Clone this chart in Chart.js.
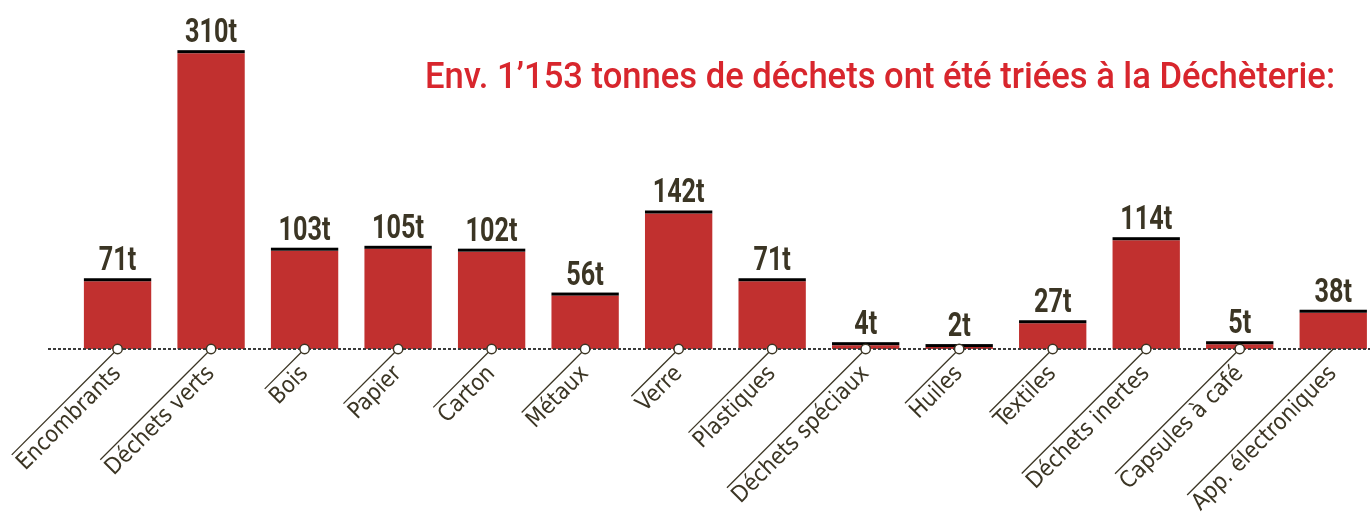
<!DOCTYPE html>
<html>
<head>
<meta charset="utf-8">
<script src="https://cdn.jsdelivr.net/npm/chart.js@4"></script>
<style>
html,body{margin:0;padding:0;background:#fff;overflow:hidden;width:1370px;height:513px;}
#wrap{position:absolute;left:0;top:0;width:1380px;height:513px;}
</style>
</head>
<body>
<div id="wrap"><canvas id="c" width="1380" height="513"></canvas></div>
<script>
const categories = ['Encombrants','Déchets verts','Bois','Papier','Carton','Métaux','Verre','Plastiques','Déchets spéciaux','Huiles','Textiles','Déchets inertes','Capsules à café','App. électroniques'];
const tonnes = [71,310,103,105,102,56,142,71,4,2,27,114,5,38];
const valueLabels = tonnes.map(v => v + 't');
const titleText = 'Env. 1’153 tonnes de déchets ont été triées à la Déchèterie:';

const RED = '#c1302f';
const TITLE_RED = '#d8262d';
const INK = '#3b3524';

const decor = {
  id: 'decor',
  afterDatasetsDraw(chart) {
    const ctx = chart.ctx;
    const meta = chart.getDatasetMeta(0);
    const base = chart.scales.y.getPixelForValue(0);
    ctx.save();
    // black top caps
    ctx.fillStyle = '#000';
    meta.data.forEach(el => {
      ctx.fillRect(el.x - el.width / 2, el.y - 3, el.width, 3);
    });
    // value labels (condensed look)
    ctx.fillStyle = INK;
    ctx.font = 'bold 33px Roboto, "DejaVu Sans Condensed", sans-serif';
    ctx.textAlign = 'center';
    ctx.textBaseline = 'alphabetic';
    const vs = 52 / ctx.measureText('310t').width;
    meta.data.forEach((el, i) => {
      ctx.save();
      ctx.translate(el.x, el.y - 11);
      ctx.scale(vs, 1);
      ctx.fillText(valueLabels[i], 0, 0);
      ctx.restore();
    });
    // dotted baseline
    ctx.strokeStyle = '#3a3a3a';
    ctx.lineWidth = 2;
    ctx.setLineDash([3, 2]);
    ctx.beginPath();
    ctx.moveTo(48, base);
    ctx.lineTo(1380, base);
    ctx.stroke();
    ctx.setLineDash([]);
    // category labels with leader lines
    ctx.font = '23px "DejaVu Sans Condensed", "DejaVu Sans", sans-serif';
    meta.data.forEach((el, i) => {
      const w = ctx.measureText(categories[i]).width;
      ctx.save();
      ctx.translate(el.x, base);
      ctx.rotate(-Math.PI / 4);
      ctx.strokeStyle = INK;
      ctx.lineWidth = 1.3;
      ctx.beginPath();
      ctx.moveTo(0, 0);
      ctx.lineTo(-(w + 13), 0);
      ctx.stroke();
      ctx.fillStyle = INK;
      ctx.textAlign = 'right';
      ctx.textBaseline = 'alphabetic';
      ctx.fillText(categories[i], -15, 21);
      ctx.restore();
      if (i < meta.data.length - 1) {
        ctx.beginPath();
        ctx.arc(el.x, base, 4.7, 0, Math.PI * 2);
        ctx.fillStyle = '#fff';
        ctx.fill();
        ctx.strokeStyle = INK;
        ctx.lineWidth = 1.5;
        ctx.stroke();
      }
    });
    // title
    ctx.font = '500 36px Roboto, "DejaVu Sans Condensed", sans-serif';
    ctx.fillStyle = TITLE_RED;
    ctx.textAlign = 'left';
    const tw = ctx.measureText(titleText).width;
    ctx.save();
    ctx.translate(425, 88);
    ctx.scale(910 / tw, 1);
    ctx.fillText(titleText, 0, 0);
    ctx.restore();
    ctx.restore();
  }
};

new Chart(document.getElementById('c'), {
  type: 'bar',
  data: {
    labels: categories,
    datasets: [{
      data: tonnes,
      backgroundColor: RED,
      borderWidth: 0,
      barPercentage: 0.72,
      categoryPercentage: 1
    }]
  },
  options: {
    responsive: false,
    animation: false,
    devicePixelRatio: 1,
    layout: { padding: { left: 70.8, right: 0, top: 15, bottom: 164 } },
    plugins: { legend: { display: false }, tooltip: { enabled: false }, title: { display: false } },
    scales: {
      x: { display: false, grid: { display: false } },
      y: { display: false, min: 0, max: 350 }
    }
  },
  plugins: [decor]
});
</script>
</body>
</html>
